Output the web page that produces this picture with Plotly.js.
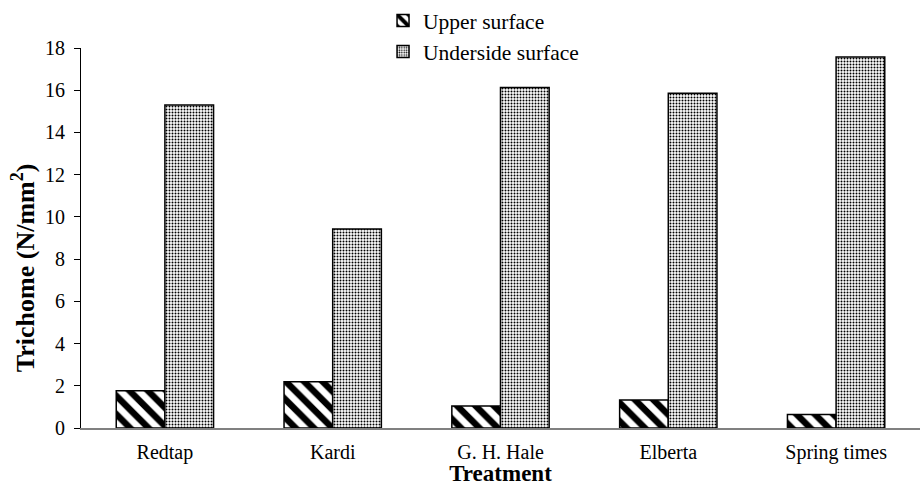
<!DOCTYPE html>
<html>
<head>
<meta charset="utf-8">
<script src="https://cdn.plot.ly/plotly-3.0.1.min.js"></script>
<style>html,body{margin:0;padding:0;background:#fff;}#chart{width:920px;height:486px;}</style>
</head>
<body>
<div id="chart"></div>
<script>
const categories = ["Redtap", "Kardi", "G. H. Hale", "Elberta", "Spring times"];
const upperSurface = [1.77, 2.19, 1.04, 1.33, 0.64];
const undersideSurface = [15.3, 9.43, 16.13, 15.86, 17.57];
const yTicks = [0, 2, 4, 6, 8, 10, 12, 14, 16, 18];
const xTitle = "Treatment";
const yTitle = "Trichome (N/mm<sup>2</sup>)";

const FONT = "Liberation Serif";

const traces = [
  {
    type: "bar", name: "Upper surface", x: categories, y: upperSurface,
    marker: {
      color: "#ffffff",
      line: {color: "#000000", width: 1.5},
      pattern: {shape: "\\", fgcolor: "#000000", bgcolor: "#ffffff", size: 13, solidity: 0.5, fillmode: "replace"}
    }
  },
  {
    type: "bar", name: "Underside surface", x: categories, y: undersideSurface,
    marker: {
      color: "#ffffff",
      line: {color: "#000000", width: 1.5},
      pattern: {shape: ".", fgcolor: "#000000", bgcolor: "#ffffff", size: 3, solidity: 0.35, fillmode: "replace"}
    }
  }
];

const layout = {
  width: 920, height: 486,
  margin: {l: 81, r: 0, t: 48, b: 58, autoexpand: false},
  paper_bgcolor: "#ffffff", plot_bgcolor: "#ffffff",
  font: {family: FONT, color: "#000000", size: 20},
  barmode: "group", bargap: 0.42, bargroupgap: 0,
  showlegend: true,
  legend: {
    x: 0.36, xanchor: "left", yref: "container", y: 1.012, yanchor: "top",
    font: {family: FONT, size: 21.5, color: "#000"},
    itemwidth: 30, tracegroupgap: 0, bgcolor: "rgba(0,0,0,0)"
  },
  xaxis: {
    type: "category",
    showline: true, linecolor: "#808080", linewidth: 1.5,
    ticks: "", showgrid: false, zeroline: false,
    tickfont: {family: FONT, size: 20}, ticklabelstandoff: 5,
    title: {text: "<b>" + xTitle + "</b>", font: {family: FONT, size: 23}, standoff: 3}
  },
  yaxis: {
    range: [0, 18], tickvals: yTicks, ticktext: yTicks.map(String),
    showline: true, linecolor: "#000000", linewidth: 1,
    ticks: "outside", ticklen: 6, tickcolor: "#000", showgrid: false, zeroline: false,
    tickfont: {family: FONT, size: 20}, ticklabelstandoff: 5
  },
  annotations: [{
    text: "<b>" + yTitle + "</b>", textangle: -90, showarrow: false,
    xref: "paper", yref: "paper", x: -0.069, y: 0.421,
    xanchor: "center", yanchor: "middle",
    font: {family: FONT, size: 26, color: "#000"}
  }]
};

Plotly.newPlot("chart", traces, layout, {displayModeBar: false, staticPlot: true});
</script>
</body>
</html>
